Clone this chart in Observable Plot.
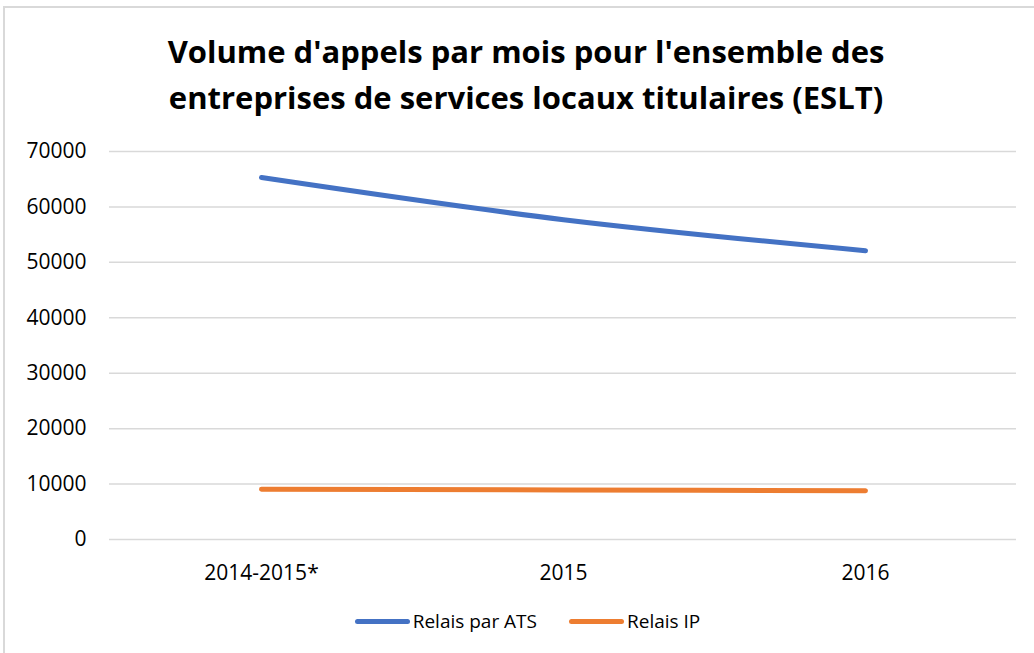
<!DOCTYPE html>
<html>
<head>
<meta charset="utf-8">
<script src="https://cdn.jsdelivr.net/npm/d3@7"></script>
<script src="https://cdn.jsdelivr.net/npm/@observablehq/plot@0.6"></script>
<style>
  html, body { margin: 0; padding: 0; background: #fff; overflow: hidden; }
  body { width: 1034px; height: 653px; position: relative; font-family: "Open Sans", sans-serif; color: #000; }
  #frame { position: absolute; left: 3px; top: 6px; width: 1100px; height: 700px; border: 2px solid #d9d9d9; box-sizing: border-box; }
  #title { position: absolute; left: 0; top: 28px; width: 1052px; text-align: center; font-weight: 700; font-size: 31px; line-height: 46px; }
  #chart { position: absolute; left: 0; top: 120px; }
  #legend { position: absolute; left: 0; top: 608px; width: 1055px; display: flex; justify-content: center; align-items: center; font-size: 19px; }
  .item { display: flex; align-items: center; margin: 0 16px; }
  .sw { width: 55px; height: 5px; border-radius: 3px; margin-right: 3px; }
</style>
</head>
<body>
<div id="frame"></div>
<div id="title">Volume d'appels par mois pour l'ensemble des<br>entreprises de services locaux titulaires (ESLT)</div>
<div id="chart"></div>
<div id="legend"></div>
<script>
const categories = ["2014-2015*", "2015", "2016"];
const relaisATS = [65300, 57700, 52100];
const relaisIP = [9050, 8950, 8800];
const seriesNames = ["Relais par ATS", "Relais IP"];
const seriesColors = ["#4472C4", "#ED7D31"];
const yTicks = [0, 10000, 20000, 30000, 40000, 50000, 60000, 70000];

const rows = [];
categories.forEach((c, i) => {
  rows.push({cat: c, value: relaisATS[i], series: seriesNames[0]});
  rows.push({cat: c, value: relaisIP[i], series: seriesNames[1]});
});

const chart = Plot.plot({
  width: 1034,
  height: 480,
  marginLeft: 109,
  marginRight: 18,
  marginTop: 31,
  marginBottom: 61,
  style: {fontFamily: "'Open Sans', sans-serif", fontSize: "21px", color: "#000", background: "transparent"},
  x: {type: "point", domain: categories, padding: 0.5, label: null},
  y: {domain: [0, 70000], label: null},
  color: {domain: seriesNames, range: seriesColors},
  marks: [
    Plot.ruleY(yTicks, {stroke: "#d9d9d9", strokeWidth: 1.5, strokeOpacity: 1}),
    Plot.axisY({ticks: yTicks, tickSize: 0, tickPadding: 23, tickFormat: d => String(d), label: null, fontSize: 21}),
    Plot.axisX({tickSize: 0, tickPadding: 26, label: null, fontSize: 21}),
    Plot.line(rows, {x: "cat", y: "value", z: "series", stroke: "series", strokeWidth: 5, strokeLinecap: "round", strokeLinejoin: "round", curve: "monotone-x"})
  ]
});
document.getElementById("chart").appendChild(chart);

const legend = document.getElementById("legend");
seriesNames.forEach((name, i) => {
  const item = document.createElement("div");
  item.className = "item";
  const sw = document.createElement("div");
  sw.className = "sw";
  sw.style.background = seriesColors[i];
  const label = document.createElement("span");
  label.textContent = name;
  item.appendChild(sw);
  item.appendChild(label);
  legend.appendChild(item);
});
</script>
</body>
</html>
